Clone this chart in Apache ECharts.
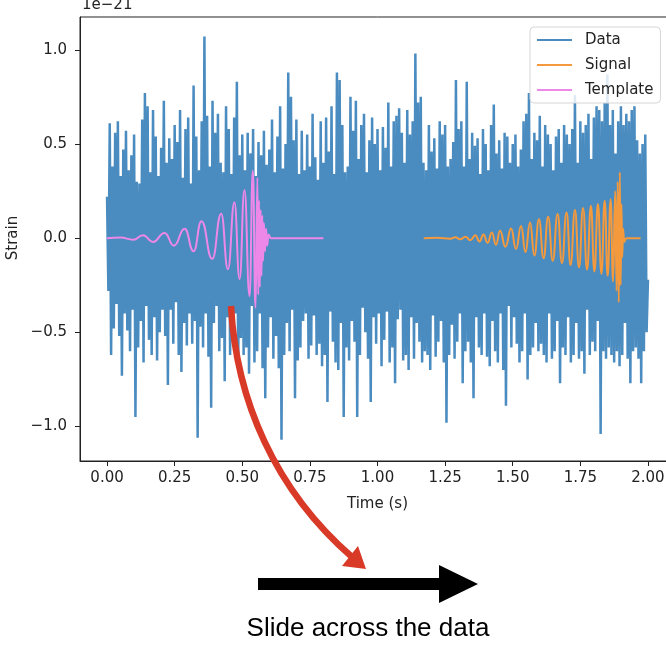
<!DOCTYPE html>
<html>
<head>
<meta charset="utf-8">
<script src="https://cdn.jsdelivr.net/npm/echarts@6.0.0/dist/echarts.min.js"></script>
<style>
  html, body { margin: 0; padding: 0; background: #fff; overflow: hidden; }
  #chart { width: 700px; height: 646px; }
</style>
</head>
<body>
<div id="chart"></div>
<script>
// sample spacing of the noisy strain record (s)
const DATA_DT = 0.005;

// strain of the data, 1e-21 (one value per sample)
const DATA_STRAIN = [
  0.22, -0.28, 0.61, -0.62, 0.38, -0.48, 0.56, -0.35, 0.62, -0.52, 0.33, -0.73, 0.47, -0.40, 0.57, -0.49, 0.36, -0.60, 0.44, -0.38,
  0.55, -0.95, 0.30, -0.58, 0.29, -0.44, 0.63, -0.66, 0.77, -0.36, 0.70, -0.54, 0.35, -0.62, 0.68, -0.42, 0.54, -0.65, 0.33, -0.50,
  0.48, -0.38, 0.73, -0.52, 0.40, -0.78, 0.53, -0.38, 0.42, -0.56, 0.60, -0.34, 0.51, -0.62, 0.68, -0.71, 0.32, -0.45, 0.58, -0.57,
  0.64, -0.40, 0.29, -0.56, 0.81, -0.44, 0.54, -1.06, 0.36, -0.47, 0.62, -0.58, 1.07, -0.40, 0.65, -0.63, 0.38, -0.90, 0.73, -0.45,
  0.56, -0.36, 0.66, -0.60, 0.40, -0.53, 0.35, -0.76, 0.70, -0.42, 0.58, -0.62, 0.34, -0.55, 0.64, -0.40, 0.83, -0.69, 0.44, -0.53,
  0.55, -0.62, 0.36, -0.58, 0.56, -0.72, 0.45, -0.36, 0.58, -0.66, 0.33, -0.60, 0.51, -0.40, 0.44, -0.69, 0.57, -0.85, 0.39, -0.58,
  0.47, -0.42, 0.63, -0.64, 0.35, -0.52, 0.54, -0.69, 0.70, -1.07, 0.37, -0.62, 0.50, -0.45, 0.88, -0.60, 0.75, -0.38, 0.52, -0.85,
  0.63, -0.65, 0.34, -0.58, 0.57, -0.44, 0.36, -0.40, 0.55, -0.64, 0.38, -0.57, 0.66, -0.41, 0.43, -0.62, 0.31, -0.56, 0.62, -0.68,
  0.40, -0.62, 0.64, -0.87, 0.46, -0.39, 0.70, -0.55, 0.34, -0.66, 0.88, -0.70, 0.84, -0.45, 0.60, -0.95, 0.35, -0.58, 0.38, -0.65,
  0.75, -0.44, 0.57, -0.55, 0.73, -0.95, 0.42, -0.62, 0.60, -0.37, 0.66, -0.50, 0.35, -0.64, 0.52, -0.87, 0.64, -0.42, 0.50, -0.56,
  0.58, -0.40, 0.36, -0.68, 0.59, -0.54, 0.48, -0.39, 0.72, -0.66, 0.38, -0.58, 0.62, -0.77, 0.65, -0.43, 0.69, -0.38, 0.56, -0.65,
  0.40, -0.62, 0.68, -0.70, 0.55, -0.42, 0.62, -0.64, 0.98, -0.45, 0.72, -0.55, 0.75, -0.66, 0.40, -0.60, 0.36, -0.62, 0.60, -0.70,
  0.46, -0.41, 0.53, -0.63, 0.37, -0.55, 0.62, -0.44, 0.55, -0.66, 0.60, -0.98, 0.38, -0.62, 0.42, -0.46, 0.51, -0.64, 0.84, -0.55,
  0.58, -0.40, 0.62, -0.77, 0.38, -0.60, 0.83, -0.55, 0.42, -0.66, 0.56, -0.85, 0.49, -0.42, 0.53, -0.58, 0.34, -0.62, 0.58, -0.40,
  0.50, -0.63, 0.36, -0.68, 0.60, -0.44, 0.71, -0.60, 0.45, -0.66, 0.52, -0.40, 0.37, -0.70, 0.56, -0.89, 0.54, -0.36, 0.40, -0.58,
  0.50, -0.42, 0.55, -0.56, 0.38, -0.66, 0.47, -0.60, 0.62, -0.40, 0.66, -0.75, 0.77, -0.62, 0.42, -0.58, 0.56, -0.45, 0.52, -0.60,
  0.65, -0.56, 0.38, -0.62, 0.60, -0.66, 0.55, -0.40, 0.50, -0.64, 0.36, -0.60, 0.54, -0.44, 0.58, -0.77, 0.40, -0.58, 0.60, -0.62,
  0.55, -0.42, 0.50, -0.66, 0.58, -0.62, 0.76, -0.45, 0.40, -0.64, 0.62, -0.60, 0.56, -0.72, 0.60, -0.38, 0.66, -0.62, 0.42, -0.55,
  0.64, -0.60, 0.70, -0.44, 0.68, -1.04, 0.62, -0.60, 0.72, -0.64, 0.87, -0.58, 0.60, -0.62, 0.68, -0.66, 0.45, -0.60, 0.62, -0.68,
  0.70, -0.62, 0.60, -0.45, 0.66, -0.64, 0.62, -0.77, 0.68, -0.60, 0.70, -0.58, 0.52, -0.64, 0.45, -0.77, 0.50, -0.60, 0.55, -0.50,
  -0.22
];

// injected signal, peaks and troughs (time s, strain 1e-21)
const SIGNAL_T = [
  1.171, 1.22, 1.27, 1.288, 1.306, 1.325, 1.343, 1.362, 1.377, 1.392, 1.407, 1.423, 1.438, 1.453, 1.473, 1.494,
  1.512, 1.531, 1.547, 1.564, 1.580, 1.597, 1.614, 1.631, 1.648, 1.666, 1.682, 1.699, 1.714, 1.730, 1.745, 1.760,
  1.775, 1.789, 1.802, 1.815, 1.828, 1.840, 1.851, 1.862, 1.871, 1.879, 1.884, 1.888, 1.892, 1.896, 1.899, 1.902,
  1.905, 1.908, 1.912, 1.92, 1.973
];
const SIGNAL_V = [
  0, 0.002, -0.003, 0.005, -0.006, 0.008, -0.011, 0.015, -0.018, 0.02, -0.025, 0.03, -0.035, 0.039, -0.045, 0.051,
  -0.058, 0.065, -0.074, 0.083, -0.092, 0.10, -0.107, 0.113, -0.12, 0.128, -0.132, 0.136, -0.143, 0.149, -0.155, 0.16,
  -0.166, 0.172, -0.177, 0.181, -0.19, 0.198, -0.20, 0.207, -0.23, 0.25, -0.28, 0.30, -0.34, 0.35, -0.25, 0.18,
  -0.10, 0.05, -0.02, 0, 0
];

// template waveform, peaks and troughs (time s, strain 1e-21)
const TEMPLATE_T = [
  0, 0.05, 0.097, 0.133, 0.17, 0.213, 0.247, 0.287, 0.32, 0.349, 0.389, 0.422, 0.447, 0.471, 0.49, 0.508, 0.527,
  0.539, 0.549, 0.556, 0.559, 0.562, 0.565, 0.568, 0.571, 0.574, 0.577, 0.580, 0.584, 0.588, 0.592, 0.597, 0.605, 0.80
];
const TEMPLATE_V = [
  0, 0.003, -0.008, 0.016, -0.02, 0.028, -0.04, 0.05, -0.07, 0.09, -0.11, 0.13, -0.165, 0.19, -0.218, 0.255, -0.307,
  0.358, -0.37, 0.32, -0.30, 0.20, -0.26, 0.15, -0.20, 0.12, -0.12, 0.08, -0.07, 0.05, -0.04, 0.02, 0, 0
];

const X_TICKS = [0, 0.25, 0.5, 0.75, 1.0, 1.25, 1.5, 1.75, 2.0];
const Y_TICKS = [-1.0, -0.5, 0, 0.5, 1.0];
const SERIES_NAMES = ['Data', 'Signal', 'Template'];

const FONT = 'DejaVu Sans';
// the div is a bit wider than the window so the right spine falls off-screen like the original crop
const chart = echarts.init(document.getElementById('chart'), null, { renderer: 'canvas' });

const dataPts = DATA_STRAIN.map((v, i) => [i * DATA_DT, v]);
const signalPts = SIGNAL_T.map((t, i) => [t, SIGNAL_V[i]]);
const templatePts = TEMPLATE_T.map((t, i) => [t, TEMPLATE_V[i]]);

const option = {
  animation: false,
  backgroundColor: '#fff',
  grid: {
    left: 80, top: 17, width: 595, height: 444,
    show: true, borderColor: '#222', borderWidth: 1, backgroundColor: 'transparent'
  },
  legend: {
    data: SERIES_NAMES,
    orient: 'vertical',
    left: 530, top: 27,
    icon: 'rect',
    itemWidth: 35, itemHeight: 2, itemGap: 9,
    padding: [5, 7, 5, 7],
    backgroundColor: 'rgba(255,255,255,0.82)',
    borderColor: '#d6d6d6', borderWidth: 1, borderRadius: 4,
    textStyle: { fontFamily: FONT, fontSize: 15, color: '#222', lineHeight: 16, padding: [0, 0, 0, 8] }
  },
  xAxis: {
    type: 'value', min: -0.1, max: 2.1,
    name: 'Time (s)', nameLocation: 'middle', nameGap: 36,
    nameTextStyle: { fontFamily: FONT, fontSize: 15, color: '#222' },
    axisLine: { show: true, onZero: false, lineStyle: { color: '#222', width: 1 } },
    axisTick: { show: true, customValues: X_TICKS, length: 5, lineStyle: { color: '#222' } },
    axisLabel: {
      customValues: X_TICKS, margin: 10,
      fontFamily: FONT, fontSize: 15, color: '#222',
      formatter: v => v.toFixed(2)
    },
    splitLine: { show: false }
  },
  yAxis: {
    type: 'value', min: -1.183, max: 1.174,
    axisLine: { show: true, onZero: false, lineStyle: { color: '#222', width: 1 } },
    axisTick: { show: true, customValues: Y_TICKS, length: 5, lineStyle: { color: '#222' } },
    axisLabel: {
      customValues: Y_TICKS, margin: 13,
      fontFamily: FONT, fontSize: 15, color: '#222',
      formatter: v => v.toFixed(1).replace('-', '\u2212')
    },
    splitLine: { show: false }
  },
  series: [
    {
      name: 'Data', type: 'line', data: dataPts,
      symbol: 'none', sampling: false,
      color: '#4a8bc0',
      lineStyle: { color: '#4a8bc0', width: 2.5, join: 'miter' }
    },
    {
      name: 'Signal', type: 'line', data: signalPts,
      symbol: 'none', smooth: 0.5, smoothMonotone: 'x',
      color: '#f59a3c',
      lineStyle: { color: '#f59a3c', width: 2 }
    },
    {
      name: 'Template', type: 'line', data: templatePts,
      symbol: 'none', smooth: 0.5, smoothMonotone: 'x',
      color: '#ee88e8',
      lineStyle: { color: '#ee88e8', width: 2 }
    }
  ],
  graphic: [
    {
      type: 'text', left: 82, top: -2,
      style: { text: '1e\u221221', font: '15px "DejaVu Sans"', fill: '#222' }
    },
    {
      type: 'text', x: 13, y: 238, rotation: Math.PI / 2,
      style: { text: 'Strain', font: '15px "DejaVu Sans"', fill: '#222', align: 'center', verticalAlign: 'middle' }
    },
    {
      // red curved arrow
      type: 'bezierCurve',
      shape: { x1: 231, y1: 306, cpx1: 236, cpy1: 400, cpx2: 275, cpy2: 490, x2: 352, y2: 557 },
      style: { stroke: '#d93a28', lineWidth: 6.5, fill: null },
      z: 100
    },
    {
      type: 'polygon',
      shape: { points: [[342, 566], [358, 546], [366, 569]] },
      style: { fill: '#d93a28' },
      z: 100
    },
    {
      // black arrow
      type: 'polygon',
      shape: { points: [[258, 578], [439, 578], [439, 565], [478, 584], [439, 603], [439, 590], [258, 590]] },
      style: { fill: '#000' },
      z: 100
    },
    {
      type: 'text', x: 368, y: 629,
      style: {
        text: 'Slide across the data', font: '26px "Liberation Sans"', fill: '#000',
        align: 'center', verticalAlign: 'middle'
      },
      z: 100
    }
  ]
};

chart.setOption(option);
</script>
</body>
</html>
